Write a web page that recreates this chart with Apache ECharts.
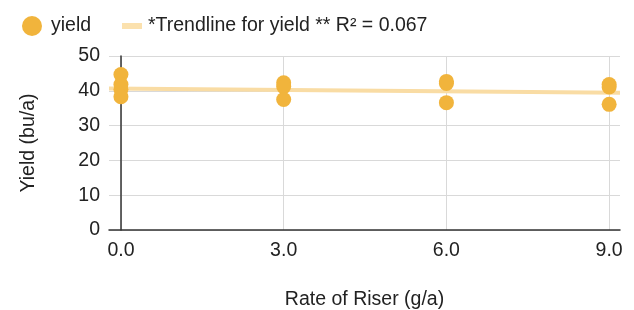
<!DOCTYPE html>
<html><head><meta charset="utf-8">
<script src="https://cdn.jsdelivr.net/npm/echarts@6/dist/echarts.min.js"></script>
<style>html,body{margin:0;padding:0;background:#fff}#c{width:634px;height:310px}</style>
</head><body><div id="c"></div>
<script>
const rates = [0, 0, 0, 0, 3, 3, 3, 6, 6, 6, 9, 9, 9];
const yields = [44.7, 41.8, 40.4, 38.3, 42.3, 41.2, 37.5, 42.7, 42.1, 36.6, 41.8, 41.1, 36.1];
const trendX = [-0.22, 9.2];
const trendY = [40.65, 39.45];
const xTicks = [0, 3, 6, 9];
const yTicks = [0, 10, 20, 30, 40, 50];
const seriesName = 'yield';
const trendName = '*Trendline for yield ** R² = 0.067';

const chart = echarts.init(document.getElementById('c'));
const font = 'Arial, "Liberation Sans", sans-serif';
const fs = 19.5;
chart.setOption({
  animation: false,
  grid: {left: 109, right: 14, top: 56, bottom: 80, containLabel: false, outerBoundsMode: 'none'},
  legend: [
    {
      left: 17, top: 11, itemWidth: 20, itemHeight: 20,
      textStyle: {fontFamily: font, fontSize: fs, color: '#222', padding: [0, 0, 0, 4]},
      data: [{name: seriesName, icon: 'circle'}]
    },
    {
      left: 117, top: 11, itemWidth: 20, itemHeight: 6,
      textStyle: {fontFamily: font, fontSize: fs, color: '#222', padding: [0, 0, 0, 1]},
      data: [{name: trendName, icon: 'rect', itemStyle: {color: '#fbe1ae'}}]
    }
  ],
  xAxis: {
    type: 'value', min: trendX[0], max: trendX[1],
    name: 'Rate of Riser (g/a)', nameLocation: 'middle', nameGap: 60,
    nameTextStyle: {fontFamily: font, fontSize: fs, color: '#222'},
    axisLine: {show: true, lineStyle: {color: '#333', width: 1.5}},
    axisTick: {show: false, customValues: xTicks},
    axisLabel: {fontFamily: font, fontSize: fs, color: '#222', margin: 11,
      customValues: xTicks, formatter: v => v.toFixed(1)},
    splitLine: {show: true, lineStyle: {color: '#d9d9d9', width: 1}}
  },
  yAxis: {
    type: 'value', min: 0, max: 50, interval: 10,
    name: 'Yield (bu/a)', nameLocation: 'middle', nameGap: 70,
    nameTextStyle: {fontFamily: font, fontSize: fs, color: '#222'},
    axisLine: {show: true, lineStyle: {color: '#333', width: 1.5}},
    axisTick: {show: false},
    axisLabel: {fontFamily: font, fontSize: fs, color: '#222', margin: 9},
    splitLine: {show: true, lineStyle: {color: '#d9d9d9', width: 1}}
  },
  series: [
    {
      name: trendName, type: 'line',
      data: trendX.map((x, i) => [x, trendY[i]]),
      showSymbol: false, symbol: 'none',
      lineStyle: {color: '#f9dca4', width: 4},
      itemStyle: {color: '#fbe1ae'}, z: 1
    },
    {
      name: seriesName, type: 'scatter',
      data: rates.map((x, i) => [x, yields[i]]),
      symbolSize: 15,
      itemStyle: {color: '#f1b43c', opacity: 1}, z: 3
    }
  ]
});
</script></body></html>
